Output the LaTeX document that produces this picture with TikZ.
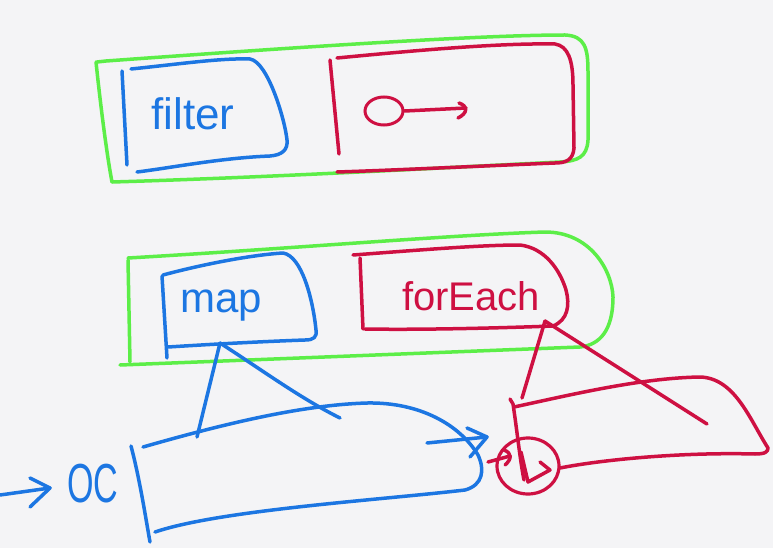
\documentclass[tikz,border=0pt]{standalone}
\usepackage{fontspec}
\setmainfont{Liberation Sans}
\usetikzlibrary{arrows.meta,shapes.geometric}
\definecolor{pen-green}{RGB}{92,238,72}
\definecolor{pen-blue}{RGB}{28,118,226}
\definecolor{pen-red}{RGB}{206,16,66}
\definecolor{paper}{RGB}{244,244,246}
\tikzset{
  stroke/.style={line width=3.5pt, line cap=round, line join=round},
  gline/.style={stroke, draw=pen-green},
  bline/.style={stroke, draw=pen-blue},
  rline/.style={stroke, draw=pen-red},
  label/.style={inner sep=0pt, anchor=center},
}
\newcommand{\fsz}[1]{\fontsize{#1}{#1}\selectfont}
\begin{document}
\begin{tikzpicture}[x=1pt,y=-1pt]
\fill[paper] (0,0) rectangle (773,548);
\useasboundingbox (0,0) rectangle (773,548);

% named points
\coordinate (mapbot) at (220,343);
\coordinate (febot) at (545,321);
\coordinate (tri-bl) at (197,437);
\coordinate (tri-br) at (340,418);
\coordinate (rtri-l) at (522,398);
\coordinate (rtri-r) at (707,424);

% ---- top group ----
\draw[gline] (97,62) -- (106,61) .. controls (300,47) and (480,35) .. (565,35)
  .. controls (585,36) and (588,48) .. (588,72) -- (588,140)
  .. controls (587,157) and (578,161) .. (560,162)
  .. controls (400,170) and (250,178) .. (112,182);
\draw[gline] (96,62) .. controls (100,100) and (106,150) .. (112,182);

\draw[bline] (122,71) -- (127,165);
\draw[bline] (131,69) .. controls (180,64) and (220,58) .. (250,59)
  .. controls (268,62) and (285,120) .. (287,140)
  .. controls (288,150) and (282,155) .. (270,156)
  .. controls (220,158) and (170,168) .. (137,172);
\node[label, text=pen-blue] (filter) at (193,114) {\fsz{44}filter};

\draw[rline] (330,60) -- (339,154);
\draw[rline] (337,58) .. controls (420,50) and (500,43) .. (555,44)
  .. controls (568,46) and (573,60) .. (573,85) -- (574,148)
  .. controls (573,160) and (566,163) .. (555,163)
  .. controls (480,166) and (400,170) .. (337,172);
\node[draw=pen-red, line width=3pt, ellipse, minimum width=38pt, minimum height=28pt, inner sep=0pt] (circ) at (384,111) {};
\coordinate (arrend) at (466,108);
\draw[rline] (circ.east) -- (arrend);
\draw[rline] (459,103) .. controls (468,106) and (468,113) .. (458,118);

% ---- middle group ----
\draw[gline] (128,258) .. controls (300,248) and (450,235) .. (545,232)
  .. controls (590,232) and (612,270) .. (613,297)
  .. controls (613,330) and (600,345) .. (580,347)
  .. controls (450,352) and (250,360) .. (120,365);
\draw[gline] (128,260) -- (130,362);

\draw[bline] (162,276) -- (167,358);
\draw[bline] (163,275) .. controls (200,265) and (250,255) .. (283,253)
  .. controls (302,256) and (313,300) .. (316,330)
  .. controls (317,337) and (314,340) .. (305,340)
  .. controls (250,342) and (200,345) .. (168,347);
\node[label, text=pen-blue] (map) at (221,306) {\fsz{42}map};

\draw[rline] (360,258) -- (363,329);
\draw[rline] (353,255) .. controls (420,250) and (480,245) .. (520,245)
  .. controls (545,248) and (560,270) .. (566,290)
  .. controls (570,305) and (568,320) .. (553,326)
  .. controls (500,328) and (420,330) .. (365,329);
\node[label, text=pen-red] (forEach) at (471,296) {\fsz{40}forEach};

% ---- blue triangle and box ----
\draw[bline] (mapbot) -- (tri-bl);
\draw[bline] (mapbot) .. controls (265,372) and (300,398) .. (tri-br);

\draw[bline] (131,446) .. controls (140,480) and (146,520) .. (150,542);
\draw[bline] (143,447) .. controls (220,425) and (300,405) .. (367,403)
  .. controls (420,402) and (460,425) .. (478,455)
  .. controls (485,470) and (483,485) .. (465,490)
  .. controls (380,500) and (220,510) .. (155,532);
\coordinate (barr-s) at (427,443);
\coordinate (barr-e) at (487,437);
\draw[bline] (barr-s) -- (barr-e);
\draw[bline] (467,428) -- (barr-e) -- (470,457);

% ---- left arrow and OC ----
\coordinate (larr-s) at (0,495);
\node[label, text=pen-blue] (oc) at (93,484) {\fsz{55}\scalebox{0.62}[1]{OC}};
\coordinate (larr-e) at (50,488);
\draw[bline] (larr-s) -- (larr-e);
\draw[bline] (30,478) -- (larr-e) -- (30,507);

% ---- red triangle and box ----
\draw[rline] (febot) -- (rtri-l);
\draw[rline] (febot) -- (rtri-r);

\draw[rline] (510,399) -- (513,404) .. controls (517,430) and (520,460) .. (524,480);
\draw[rline] (514,407) .. controls (570,395) and (640,378) .. (700,377)
  .. controls (735,378) and (750,420) .. (768,448)
  .. controls (768,452) and (765,454) .. (755,454)
  .. controls (680,452) and (600,460) .. (560,468);
\node[draw=pen-red, line width=3.2pt, ellipse, minimum width=62pt, minimum height=56pt, inner sep=0pt] (play) at (528,466) {};
\draw[rline] (521,452) -- (528,482) -- (550,470) -- (540,462);
\coordinate (parr-s) at (488,462);
\draw[rline] (parr-s) -- (510,456);
\draw[rline] (504,450) .. controls (512,453) and (512,459) .. (505,465);
\end{tikzpicture}
\end{document}
